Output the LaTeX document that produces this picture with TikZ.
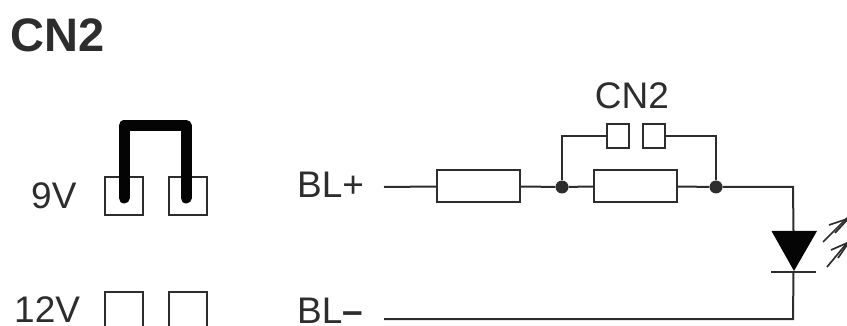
\documentclass[tikz,border=0pt]{standalone}
\usepackage{fontspec}
\setmainfont{Liberation Sans}
\definecolor{ink}{RGB}{45,45,45}
\tikzset{
  wire/.style={draw=ink,line width=2pt},
  pinbox/.style={draw=ink,line width=2pt,fill=white,minimum width=38pt,minimum height=38pt,inner sep=0pt,outer sep=0pt},
  smallpin/.style={draw=ink,line width=2pt,fill=white,minimum width=22pt,minimum height=24pt,inner sep=0pt,outer sep=0pt},
  resistor/.style={draw=ink,line width=2pt,fill=white,minimum width=83pt,minimum height=32pt,inner sep=0pt,outer sep=0pt},
  label/.style={text=ink,inner sep=0pt,font=\fontsize{37}{37}\selectfont,anchor=base west},
  junction/.style={circle,fill=ink,draw=none,minimum size=13pt,inner sep=0pt},
  glow/.style={draw=ink,line width=1.7pt},
}
\begin{document}
\begin{tikzpicture}[x=1pt,y=-1pt]
\useasboundingbox (0,0) rectangle (847,326);
\node[text=ink,inner sep=0pt,anchor=base west,font=\fontsize{47}{47}\selectfont\bfseries] (title) at (10,51.5) {CN2};
\node[label] (nine) at (31,208) {9V};
\node[label] (twelve) at (14,322.5) {12V};
\node[label] (blp) at (297,198) {BL+};
\node[label] (blm) at (297,323) {BL\textbf{–}};
\node[label,anchor=base] (cnl) at (632,109) {CN2};
\begin{scope}
\clip (0,0) rectangle (847,326);
% jumper pins
\node[pinbox] (p1) at (124,196) {};
\node[pinbox] (p2) at (188,196) {};
\node[pinbox] (p3) at (124,311) {};
\node[pinbox] (p4) at (188,311) {};
\draw[line width=11pt,draw=black!90!ink,line cap=round,line join=round] (124,198) -- (124,125.5) -- (186,125.5) -- (186,198);
% circuit
\coordinate (startp) at (384,187);
\coordinate (startm) at (384,319);
\coordinate (corner) at (793,187);
\coordinate (cornerb) at (793,319);
\node[resistor] (r1) at (478,186.5) {};
\node[resistor] (r2) at (635.5,186.5) {};
\node[junction] (j1) at (562,187) {};
\node[junction] (j2) at (716,187) {};
\node[smallpin] (s1) at (617.5,136.5) {};
\node[smallpin] (s2) at (653.5,136.5) {};
\coordinate (ka) at (793.5,231);
\coordinate (kb) at (793.5,272);
\draw[wire] (startp) -- (r1.west);
\draw[wire] (r1.east) -- (j1) -- (r2.west);
\draw[wire] (r2.east) -- (j2) -- (corner) -- (ka);
\draw[wire] (j1) |- (s1.west);
\draw[wire] (j2) |- (s2.east);
\draw[wire] (kb) -- (cornerb) -- (startm);
\fill[black!90!ink] (771.5,231) -- (817,231) -- (794,271) -- cycle;
\draw[ink,line width=2.8pt] (771,272) -- (816,272);
% light arrows
\draw[glow] (823,242) -- (847,218);
\draw[glow] (829,225) -- (847,219);
\draw[glow] (835,233) -- (847,220);
\draw[glow] (827,267) -- (847,243);
\draw[glow] (831,250) -- (847,243);
\draw[glow] (838,258) -- (847,245);
\end{scope}
\end{tikzpicture}
\end{document}
